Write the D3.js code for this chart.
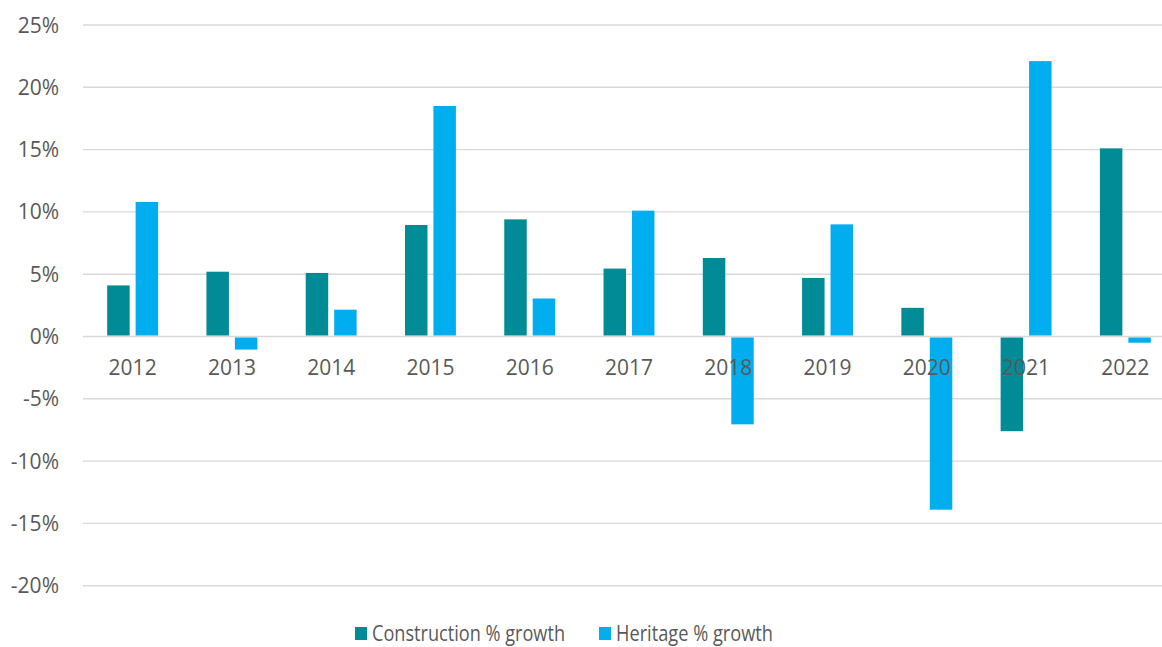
<!DOCTYPE html>
<html>
<head>
<meta charset="utf-8">
<script src="https://cdn.jsdelivr.net/npm/d3@7"></script>
<style>
  body { margin: 0; background: #fff; }
  text { font-family: "Open Sans", sans-serif; fill: #595959; }
</style>
</head>
<body>
<div id="chart"></div>
<script>
var years = ["2012", "2013", "2014", "2015", "2016", "2017", "2018", "2019", "2020", "2021", "2022"]
var seriesNames = ["Construction % growth", "Heritage % growth"]
var construction = [4.1, 5.2, 5.1, 8.95, 9.4, 5.45, 6.3, 4.7, 2.3, -7.6, 15.1]
var heritage = [10.8, -1.05, 2.15, 18.5, 3.05, 10.1, -7.05, 9.0, -13.9, 22.1, -0.5]
var yTicks = [-20, -15, -10, -5, 0, 5, 10, 15, 20, 25]

;(function() {
  'use strict'

  // SVG Setup //
  var width = 1162,
    height = 647,
    colors = ["#008b96", "#00aeef"]

  var svg = d3.select("#chart").append("svg")
    .attr("width", width)
    .attr("height", height)

  var data = years.map(function(y, i) {
    return { year: y, values: [construction[i], heritage[i]] }
  })

  // Scales //
  var x0 = d3.scaleBand()
    .domain(years)
    .range([83, 1175])
    .paddingInner(0.487)
    .paddingOuter(0.2435)

  var x1 = d3.scaleBand()
    .domain([0, 1])
    .range([0, x0.bandwidth()])
    .paddingInner(0.21)

  var y = d3.scaleLinear()
    .domain([-20, 25])
    .range([585.7, 25])

  // Gridlines //
  svg.append("g")
    .selectAll("line")
    .data(yTicks)
    .enter().append("line")
    .attr("x1", 83)
    .attr("x2", 1175)
    .attr("y1", function(d) { return y(d) })
    .attr("y2", function(d) { return y(d) })
    .style("stroke", "#d9d9d9")
    .style("stroke-width", 1.4)

  svg.append("g")
    .selectAll("text")
    .data(yTicks)
    .enter().append("text")
    .attr("x", 59)
    .attr("y", function(d) { return y(d) + 7.5 })
    .attr("text-anchor", "end")
    .style("font-size", "21px")
    .text(function(d) { return d + "%" })

  // Bars //
  var groups = svg.append("g")
    .selectAll("g")
    .data(data)
    .enter().append("g")
    .attr("transform", function(d) { return "translate(" + x0(d.year) + ",0)" })

  groups.selectAll("rect")
    .data(function(d) { return d.values })
    .enter().append("rect")
    .attr("x", function(d, i) { return x1(i) })
    .attr("width", x1.bandwidth())
    .attr("y", function(d) { return d >= 0 ? y(d) : y(0) + 1 })
    .attr("height", function(d) { return d >= 0 ? y(0) - 1 - y(d) : y(d) - y(0) - 1 })
    .style("fill", function(d, i) { return colors[i] })

  // Category labels //
  svg.append("g")
    .selectAll("text")
    .data(years)
    .enter().append("text")
    .attr("x", function(d) { return x0(d) + x0.bandwidth() / 2 })
    .attr("y", 375)
    .attr("text-anchor", "middle")
    .style("font-size", "21px")
    .text(function(d) { return d })

  // Legend //
  var legendX = [355, 599],
    legendW = [193, 157]
  var legend = svg.append("g")
    .selectAll("g")
    .data(seriesNames)
    .enter().append("g")
    .attr("transform", function(d, i) { return "translate(" + legendX[i] + ",0)" })

  legend.append("rect")
    .attr("y", 627)
    .attr("width", 12)
    .attr("height", 13)
    .style("fill", function(d, i) { return colors[i] })

  legend.append("text")
    .attr("x", 17)
    .attr("y", 641)
    .attr("textLength", function(d, i) { return legendW[i] })
    .attr("lengthAdjust", "spacingAndGlyphs")
    .style("font-size", "21px")
    .text(function(d) { return d })
})()
</script>
</body>
</html>
